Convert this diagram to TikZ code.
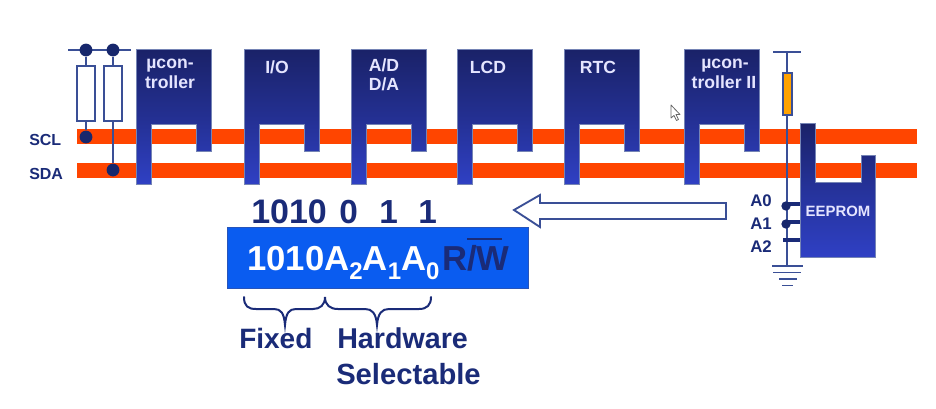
\documentclass[tikz,border=0pt]{standalone}
\usepackage{fontspec}
\setmainfont{Liberation Sans}
\definecolor{navy}{HTML}{1A2B78}
\definecolor{wire}{HTML}{3A4F96}
\definecolor{chiptop}{HTML}{1A2268}
\definecolor{chipbot}{HTML}{2F40C4}
\definecolor{busorange}{HTML}{FF4500}
\definecolor{boxblue}{HTML}{0A5CF0}
\definecolor{resorange}{HTML}{FFA200}
\newcommand{\chipshape}[1]{%
  \shade[top color=chiptop,bottom color=chipbot,middle color=chiptop!55!chipbot,draw=wire!70,line width=.5pt]
    (#1,49) -- ++(75,0) -- ++(0,102) -- ++(-15,0) -- ++(0,-27) -- ++(-45,0) -- ++(0,60) -- ++(-15,0) -- cycle;}
\newcommand{\bigsub}[1]{\raisebox{-0.27em}{\fontsize{18}{20}\selectfont\bfseries #1}}
\tikzset{
  x=0.75pt,y=-0.75pt,
  bus/.style={fill=busorange,draw=none},
  wireline/.style={draw=wire,line width=1.3pt},
  res/.style={draw=wire,fill=white,line width=1.2pt,minimum width=13.5pt,minimum height=41pt,inner sep=0,rectangle},
  ores/.style={draw=wire,fill=resorange,line width=1pt,minimum width=6.8pt,minimum height=31.5pt,inner sep=0,rectangle},
  jdot/.style={circle,fill=navy!90!black,minimum size=9.6pt,inner sep=0},
  sdot/.style={circle,fill=navy!90!black,minimum size=7pt,inner sep=0},
  chiplabel/.style={anchor=base,inner sep=0,text=white!90!blue,font=\fontsize{13.2}{15}\selectfont\bfseries},
  navytext/.style={anchor=base west,inner sep=0,text=navy},
}
\begin{document}
\begin{tikzpicture}
\useasboundingbox (0,0) rectangle (936,408);
\fill[white] (0,0) rectangle (936,408);
% buses
\fill[bus] (77,129) rectangle (917,144);
\fill[bus] (77,163) rectangle (917,178);
\node[navytext,font=\fontsize{12}{14}\selectfont\bfseries] (scl) at (29,145) {SCL};
\node[navytext,font=\fontsize{12}{14}\selectfont\bfseries] (sda) at (29,179) {SDA};
% left pull-ups
\coordinate (railL) at (68,50);
\coordinate (railR) at (131,50);
\draw[wireline,line width=1.5pt] (railL) -- (railR);
\node[jdot] (t1) at (86,50) {};
\node[jdot] (t2) at (113,50) {};
\node[res] (r1) at (86,93.5) {};
\node[res] (r2) at (113,93.5) {};
\node[jdot] (b1) at (86,137) {};
\node[jdot] (b2) at (113,170) {};
\draw[wireline] (t1) -- (r1);
\draw[wireline] (t2) -- (r2);
\draw[wireline] (r1) -- (b1);
\draw[wireline] (r2) -- (b2);
% chips
\chipshape{136}\chipshape{244}\chipshape{351}\chipshape{457}\chipshape{564}\chipshape{684}
\node[chiplabel] (c1a) at (170,68) {µcon-};
\node[chiplabel] (c1b) at (170,88) {troller};
\node[chiplabel] (c2) at (277,73) {I/O};
\node[chiplabel] (c3a) at (384,71) {A/D};
\node[chiplabel] (c3b) at (384,90) {D/A};
\node[chiplabel] (c4) at (488,73) {LCD};
\node[chiplabel] (c5) at (598,73) {RTC};
\node[chiplabel] (c6a) at (725,68) {µcon-};
\node[chiplabel] (c6b) at (724,88) {troller II};
% right resistor and rail
\coordinate (rtL) at (773,52);
\coordinate (rtR) at (801,52);
\coordinate (rtM) at (787,52);
\coordinate (gnd) at (787,266);
\draw[wireline] (rtL) -- (rtR);
\draw[wireline] (rtM) -- (gnd);
\node[ores] (r3) at (787.5,94) {};
\draw[wireline] (772,266) -- (803,266);
\draw[wireline] (773,272.500) -- (801,272.500);
\draw[wireline] (779,279) -- (797,279);
\draw[wireline] (782,285.500) -- (793,285.500);
% EEPROM
\shade[top color=chiptop,bottom color=chipbot,middle color=chiptop!45!chipbot,draw=wire!70,line width=.5pt]
  (800,123) -- (815,123) -- (815,182) -- (861,182) -- (861,155) -- (875,155) -- (875,257) -- (800,257) -- cycle;
\node[chiplabel,font=\fontsize{11.2}{13}\selectfont\bfseries] (ee) at (838,216) {EEPROM};
% address pins
\draw[navy,line width=2.6pt] (784,204) -- (800,204);
\draw[navy,line width=2.6pt] (784,222) -- (800,222);
\draw[navy,line width=2.6pt] (783,240) -- (800,240);
\node[sdot] (p0) at (786,206) {};
\node[sdot] (p1) at (786,224) {};
\node[navytext,font=\fontsize{12.6}{14}\selectfont\bfseries] (a0) at (750,206) {A0};
\node[navytext,font=\fontsize{12.6}{14}\selectfont\bfseries] (a1) at (750,229) {A1};
\node[navytext,font=\fontsize{12.6}{14}\selectfont\bfseries] (a2) at (750,252) {A2};
% hollow arrow
\draw[draw=wire,fill=white,line width=1.4pt,line join=miter]
  (514,210) -- (540,195) -- (540,203) -- (726,203) -- (726,219) -- (540,219) -- (540,227) -- cycle;
% bits
\node[navytext,font=\fontsize{25.500}{28}\selectfont\bfseries] (bits) at (251,223) {1010};
\node[navytext,font=\fontsize{25}{28}\selectfont\bfseries] (b2a) at (339,223) {0};
\node[navytext,font=\fontsize{25}{28}\selectfont\bfseries] (b1a) at (379,223) {1};
\node[navytext,font=\fontsize{25}{28}\selectfont\bfseries] (b0a) at (418,223) {1};
% address box
\node[draw=wire!60!boxblue,fill=boxblue,line width=.6pt,minimum width=225.75pt,minimum height=45.75pt,inner sep=0,rectangle] (addr) at (377.5,257.5) {};
\node[anchor=base west,inner sep=0,text=white,font=\fontsize{26}{28}\selectfont\bfseries] (atext) at (247,270) {1010A\bigsub{2}A\bigsub{1}A\bigsub{0}};
\node[anchor=base west,inner sep=0,text=navy,font=\fontsize{26}{28}\selectfont\bfseries] (rw) at (442,270) {R/W};
\draw[navy,line width=.8pt] (467,239) -- (502,239);
% braces
\draw[navy,line width=1.5pt,line cap=round]
  (244,297) .. controls (244,306) and (248,309) .. (256,309) -- (274,309)
  .. controls (281,309) and (284,313) .. (285,325)
  .. controls (286,313) and (289,309) .. (296,309) -- (313,309)
  .. controls (320,309) and (325,305) .. (325,297)
  .. controls (325,305) and (330,309) .. (338,309) -- (365,309)
  .. controls (372,309) and (376,313) .. (377,325)
  .. controls (378,313) and (382,309) .. (389,309) -- (419,309)
  .. controls (427,309) and (431,305) .. (431,297);
% captions
\node[navytext,font=\fontsize{21}{24}\selectfont\bfseries] (fx) at (239,348) {Fixed};
\node[navytext,font=\fontsize{21.500}{24}\selectfont\bfseries] (hw) at (337,348) {Hardware};
\node[navytext,font=\fontsize{21.900}{24}\selectfont\bfseries] (sl) at (336,384) {Selectable};
% mouse cursor
\draw[gray!80!black,fill=white,line width=.6pt,line join=round]
  (671,105) -- (671,118) -- (674,115.500) -- (676.500,120.500) -- (678.500,119.500) -- (676,114.500) -- (680,114.500) -- cycle;
\end{tikzpicture}
\end{document}
